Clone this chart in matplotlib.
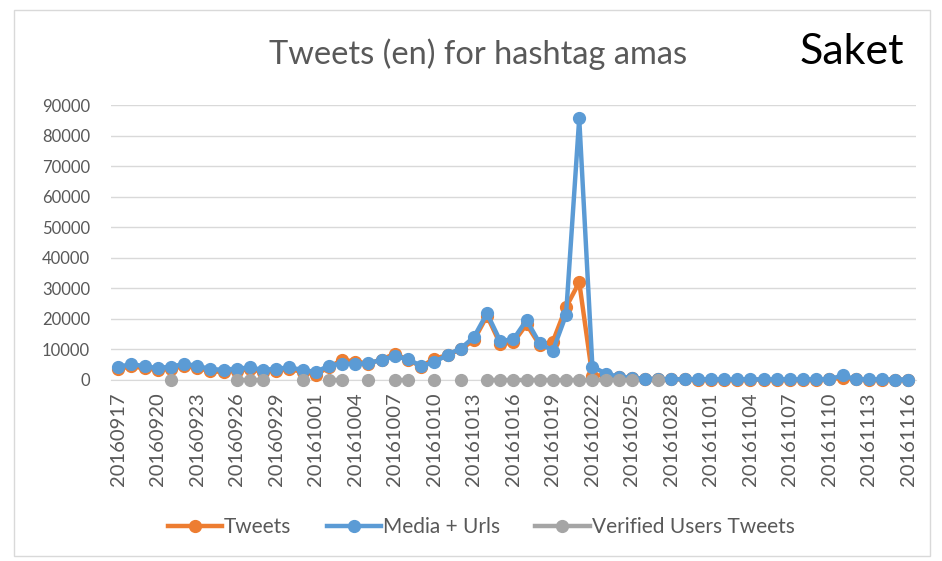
import numpy as np
import matplotlib
matplotlib.use("Agg")
import matplotlib.pyplot as plt
from matplotlib.lines import Line2D
from matplotlib.patches import Rectangle

plt.rcParams['font.family'] = ['Lato', 'DejaVu Sans']

# Dados (61 dias, rótulo a cada 3 dias)
rotulos = ["20160917", "20160920", "20160923", "20160926", "20160929",
           "20161001", "20161004", "20161007", "20161010", "20161013",
           "20161016", "20161019", "20161022", "20161025", "20161028",
           "20161101", "20161104", "20161107", "20161110", "20161113",
           "20161116"]

tweets = [3600, 4500, 3800, 3300, 3700, 4500, 4000, 2800, 2700, 3100,
          3500, 2700, 3100, 3500, 2700, 1800, 4200, 6600, 6000, 5400,
          6700, 8600, 6600, 4400, 7000, 8100, 10100, 13000, 21000, 11800,
          12300, 18200, 11400, 12600, 23800, 32000, 1200, 1800, 900, 600,
          400, 250, 200, 200, 150, 150, 150, 150, 150, 150,
          150, 150, 150, 150, 200, 800, 200, 150, 150, 100, 100]

media = [4300, 5200, 4500, 3900, 4400, 5200, 4700, 3500, 3400, 3700,
         4100, 3300, 3700, 4100, 3300, 2600, 4700, 5400, 5200, 5500,
         6600, 7800, 6800, 4600, 5800, 8300, 10300, 14000, 21800, 12800,
         13300, 19600, 12000, 9600, 21300, 85600, 4400, 2100, 1100, 700,
         400, 300, 250, 250, 200, 200, 200, 200, 200, 200,
         200, 200, 200, 200, 250, 1500, 250, 200, 200, 150, 150]

# Verified Users Tweets: só existem em alguns dias
dias_verificados = [4, 9, 10, 11, 14, 16, 17, 19, 21, 22, 24, 26, 28, 29, 30,
                    31, 32, 33, 34, 35, 36, 37, 38, 39, 41]
verificados = [0 if i in dias_verificados else np.nan for i in range(len(media))]

laranja = "#ED7D31"
azul = "#5B9BD5"
cinza = "#A5A5A5"
texto = "#595959"

fig = plt.figure(figsize=(9.42, 5.61), dpi=100)
ax = fig.add_axes([111/942, 1-380/561, (916-111)/942, (380-105)/561])

x = np.arange(len(media))
estilo = dict(linewidth=3.2, marker="o", markersize=8.5, clip_on=False)
ax.plot(x, tweets, color=laranja, zorder=3, **estilo)
ax.plot(x, media, color=azul, zorder=4, **estilo)
ax.plot(x, verificados, color=cinza, zorder=5, **estilo)

ax.set_ylim(0, 90000)
ax.set_xlim(-0.55, len(media) - 1 + 0.57)
ax.set_yticks(np.arange(0, 90001, 10000))
ax.set_yticklabels([str(v) for v in range(0, 90001, 10000)])
ax.set_xticks(x[::3])
ax.set_xticklabels(rotulos, rotation=90)
ax.tick_params(axis="y", length=0, pad=15, labelsize=12, labelcolor=texto)
ax.tick_params(axis="x", length=0, pad=9, labelsize=14.5, labelcolor=texto)
ax.grid(axis="y", color="#D9D9D9", linewidth=1)
ax.set_axisbelow(True)
for lado in ["left", "right", "top"]:
    ax.spines[lado].set_visible(False)
ax.spines["bottom"].set_color("#D9D9D9")

fig.text(478/942, 1-54/561, "Tweets (en) for hashtag amas", fontsize=23.5,
         color=texto, ha="center", va="center")
fig.text(852/942, 1-52/561, "Saket", fontsize=31, color="black",
         ha="center", va="center")

handles = [Line2D([], [], color=c, linewidth=3.2, marker="o", markersize=8.5)
           for c in (laranja, azul, cinza)]
fig.legend(handles, ["Tweets", "Media + Urls", "Verified Users Tweets"],
           loc="center", bbox_to_anchor=(481/942, 1-527/561), ncol=3,
           frameon=False, fontsize=15, handlelength=2.6, handletextpad=0.1,
           columnspacing=1.7, labelcolor=texto)

fig.add_artist(Rectangle((14/942, 1-556/561), (930-14)/942, (556-10)/561,
                         transform=fig.transFigure, fill=False,
                         edgecolor="#D9D9D9", linewidth=1))

fig.savefig("out.png", dpi=100)
